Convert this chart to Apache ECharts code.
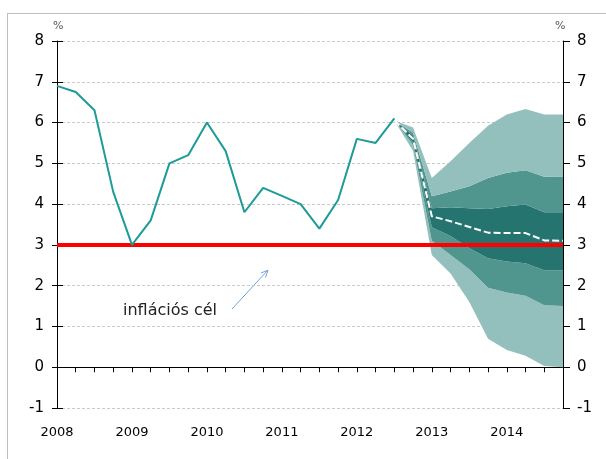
<!DOCTYPE html>
<html>
<head>
<meta charset="utf-8">
<script src="https://cdn.jsdelivr.net/npm/echarts@6/dist/echarts.min.js"></script>
<style>
html,body{margin:0;padding:0;background:#fff;}
#chart{width:606px;height:459px;}
</style>
</head>
<body>
<div id="chart"></div>
<script>
// Quarterly categories 2008 Q1 .. 2014 Q4
var categories = [
  '2008 Q1','2008 Q2','2008 Q3','2008 Q4',
  '2009 Q1','2009 Q2','2009 Q3','2009 Q4',
  '2010 Q1','2010 Q2','2010 Q3','2010 Q4',
  '2011 Q1','2011 Q2','2011 Q3','2011 Q4',
  '2012 Q1','2012 Q2','2012 Q3','2012 Q4',
  '2013 Q1','2013 Q2','2013 Q3','2013 Q4',
  '2014 Q1','2014 Q2','2014 Q3','2014 Q4'
];
var yTicks = [-1, 0, 1, 2, 3, 4, 5, 6, 7, 8];

// Actual inflation (%), 2008 Q1 .. 2012 Q3
var inflation = [6.9, 6.75, 6.3, 4.3, 3.0, 3.6, 5.0, 5.2, 6.0, 5.3, 3.8, 4.4, 4.2, 4.0, 3.4, 4.1, 5.6, 5.5, 6.1,
  null, null, null, null, null, null, null, null, null];

// Inflation target
var inflationTarget = 3;

// Fan chart bands, 2012 Q3 .. 2014 Q4 (null before the forecast starts)
var N = null;
var outerLow  = [N,N,N,N,N,N,N,N,N,N,N,N,N,N,N,N,N,N, 6.05, 5.30, 2.75, 2.30, 1.60, 0.70, 0.42, 0.28, 0.03, 0.00];
var midLow    = [N,N,N,N,N,N,N,N,N,N,N,N,N,N,N,N,N,N, 6.05, 5.45, 3.10, 2.75, 2.40, 1.95, 1.83, 1.75, 1.52, 1.50];
var innerLow  = [N,N,N,N,N,N,N,N,N,N,N,N,N,N,N,N,N,N, 6.05, 5.52, 3.43, 3.22, 2.92, 2.67, 2.59, 2.55, 2.38, 2.37];
var central   = [N,N,N,N,N,N,N,N,N,N,N,N,N,N,N,N,N,N, 6.05, 5.60, 3.70, 3.58, 3.44, 3.30, 3.29, 3.29, 3.11, 3.10];
var innerHigh = [N,N,N,N,N,N,N,N,N,N,N,N,N,N,N,N,N,N, 6.05, 5.68, 3.90, 3.92, 3.90, 3.88, 3.95, 3.99, 3.80, 3.80];
var midHigh   = [N,N,N,N,N,N,N,N,N,N,N,N,N,N,N,N,N,N, 6.05, 5.75, 4.19, 4.31, 4.44, 4.64, 4.77, 4.83, 4.67, 4.68];
var outerHigh = [N,N,N,N,N,N,N,N,N,N,N,N,N,N,N,N,N,N, 6.05, 5.88, 4.64, 5.05, 5.50, 5.92, 6.20, 6.33, 6.20, 6.20];

var annotationText = 'inflációs cél';

function diff(a, b) {
  return a.map(function (v, i) { return (v == null || b[i] == null) ? '-' : +(v - b[i]).toFixed(4); });
}
function dash(a) { return a.map(function (v) { return v == null ? '-' : v; }); }

var cLight = '#93c0bc', cMid = '#51958f', cDark = '#257470';
var font = 'DejaVu Sans';

function band(name, data, color) {
  return {
    name: name, type: 'line', stack: 'fan', data: data, symbol: 'none',
    lineStyle: { width: 0, opacity: 0 },
    areaStyle: { color: color, opacity: 1 },
    silent: true, z: 2
  };
}

var chart = echarts.init(document.getElementById('chart'), null, { renderer: 'canvas' });

var yBase = { type: 'value', min: -1, max: 8, interval: 1 };

chart.setOption({
  animation: false,
  grid: { left: 57, right: 43, top: 41, bottom: 51, containLabel: false },
  xAxis: [
    {
      type: 'category', data: categories, boundaryGap: false,
      axisLine: { show: true, onZero: true, lineStyle: { color: '#000', width: 1 } },
      axisTick: { show: true, interval: 0, length: 5, lineStyle: { color: '#000' } },
      axisLabel: { show: false },
      splitLine: { show: false }
    },
    {
      type: 'category', data: categories, boundaryGap: false, position: 'bottom',
      axisLine: { show: false, onZero: false },
      axisTick: { show: false },
      axisLabel: {
        show: true, interval: 3, margin: 18, color: '#000', fontFamily: font, fontSize: 13,
        formatter: function (v) { return v.split(' ')[0]; }
      },
      splitLine: { show: false }
    }
  ],
  yAxis: [
    Object.assign({}, yBase, {
      position: 'left',
      axisLine: { show: true, lineStyle: { color: '#000' } },
      axisTick: { show: true, length: 5, lineStyle: { color: '#000' } },
      axisLabel: { show: true, margin: 13, color: '#000', fontFamily: font, fontSize: 15 },
      splitLine: { show: true, lineStyle: { color: '#c9c9c9', type: [3, 2], width: 1 } }
    }),
    Object.assign({}, yBase, {
      position: 'left',
      axisLine: { show: false },
      axisTick: { show: true, inside: true, length: 6, lineStyle: { color: '#000' } },
      axisLabel: { show: false },
      splitLine: { show: false }
    }),
    Object.assign({}, yBase, {
      position: 'right',
      axisLine: { show: true, lineStyle: { color: '#000' } },
      axisTick: { show: true, length: 7, lineStyle: { color: '#000' } },
      axisLabel: { show: true, margin: 14, color: '#000', fontFamily: font, fontSize: 15 },
      splitLine: { show: false }
    })
  ],
  series: [
    {
      name: 'base', type: 'line', stack: 'fan', data: dash(outerLow), symbol: 'none',
      lineStyle: { width: 0, opacity: 0 }, silent: true, z: 2
    },
    band('outerLowBand', diff(midLow, outerLow), cLight),
    band('midLowBand', diff(innerLow, midLow), cMid),
    band('innerBand', diff(innerHigh, innerLow), cDark),
    band('midHighBand', diff(midHigh, innerHigh), cMid),
    band('outerHighBand', diff(outerHigh, midHigh), cLight),
    {
      name: 'target', type: 'line', data: categories.map(function () { return inflationTarget; }),
      symbol: 'none', lineStyle: { color: '#ff0000', width: 4 }, z: 5, silent: true
    },
    {
      name: 'inflation', type: 'line', data: dash(inflation), symbol: 'none',
      lineStyle: { color: '#1c9b97', width: 2 }, z: 6, silent: true
    },
    {
      name: 'central', type: 'line', data: dash(central), symbol: 'none',
      lineStyle: { color: '#ffffff', width: 2, type: [7, 3] }, z: 7, silent: true
    }
  ],
  graphic: [
    { type: 'line', shape: { x1: 7.5, y1: 13, x2: 7.5, y2: 459 }, style: { stroke: '#c0c0c0', lineWidth: 1 } },
    { type: 'line', shape: { x1: 7, y1: 13.5, x2: 606, y2: 13.5 }, style: { stroke: '#c0c0c0', lineWidth: 1 } },
    { type: 'text', left: 53, top: 21, style: { text: '%', fill: '#555', font: '11px "DejaVu Sans"' } },
    { type: 'text', left: 555, top: 21, style: { text: '%', fill: '#555', font: '11px "DejaVu Sans"' } },
    { type: 'text', left: 123, top: 303, style: { text: annotationText, fill: '#222', font: '16px "DejaVu Sans"' } },
    { type: 'line', shape: { x1: 232, y1: 309, x2: 268, y2: 270 }, style: { stroke: '#74a2d8', lineWidth: 1 } },
    { type: 'polyline', shape: { points: [[260.9, 273], [268, 270.2], [265.5, 277.6]] }, style: { stroke: '#74a2d8', lineWidth: 1, fill: null } }
  ]
});
</script>
</body>
</html>
